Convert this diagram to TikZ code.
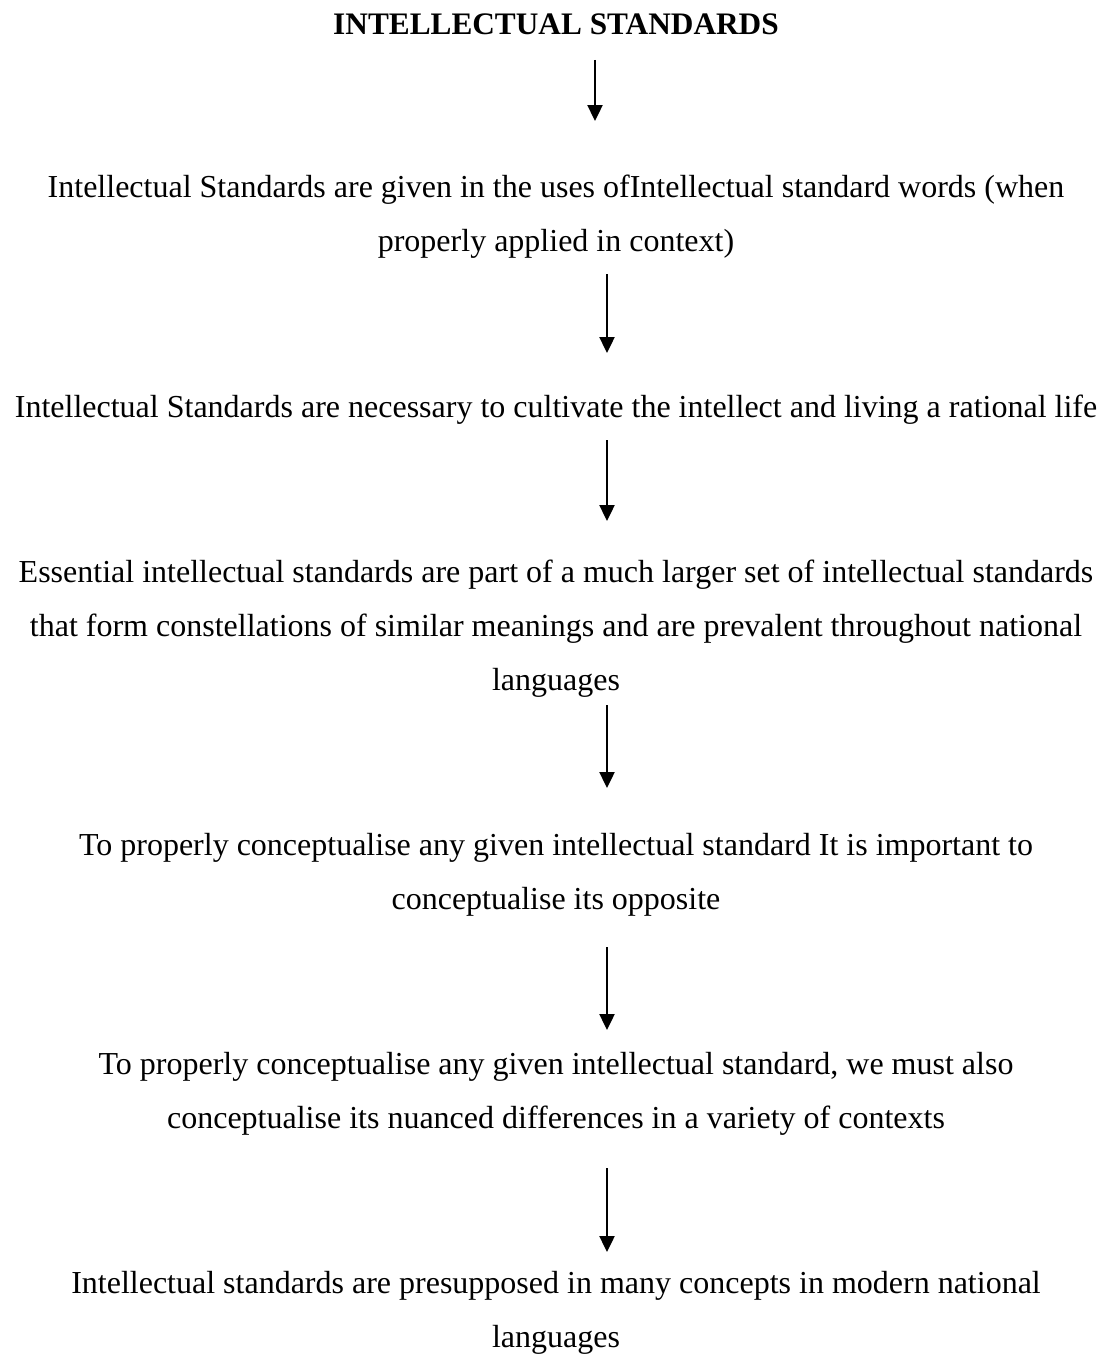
\documentclass[tikz,border=0pt]{standalone}
\usepackage{fontspec}
\setmainfont{Liberation Serif}
\usetikzlibrary{arrows.meta}
\begin{document}
\begin{tikzpicture}[x=1pt,y=-1pt,
  txt/.style={anchor=base,inner sep=0pt,align=center,
    font=\fontsize{32}{54}\selectfont},
  flow/.style={line width=2.4pt,-{Triangle[length=16pt,width=15pt]}}]
\useasboundingbox (0,0) rectangle (1106,1354);

% title and statements (placed by the baseline of their last line)
\node[txt,font=\fontsize{31.3}{54}\selectfont\bfseries] (title) at (556,35) {INTELLECTUAL STANDARDS};
\node[txt] (s1) at (556,251) {Intellectual Standards are given in the uses ofIntellectual standard words (when\\properly applied in context)};
\node[txt] (s2) at (556,417) {Intellectual Standards are necessary to cultivate the intellect and living a rational life};
\node[txt] (s3) at (556,690) {Essential intellectual standards are part of a much larger set of intellectual standards\\that form constellations of similar meanings and are prevalent throughout national\\languages};
\node[txt] (s4) at (556,909) {To properly conceptualise any given intellectual standard It is important to\\conceptualise its opposite};
\node[txt] (s5) at (556,1128) {To properly conceptualise any given intellectual standard, we must also\\conceptualise its nuanced differences in a variety of contexts};
\node[txt] (s6) at (556,1347) {Intellectual standards are presupposed in many concepts in modern national\\languages};

% arrow end points
\coordinate (a1s) at (595,60);   \coordinate (a1e) at (595,121);
\coordinate (a2s) at (607,274);  \coordinate (a2e) at (607,353);
\coordinate (a3s) at (607,440);  \coordinate (a3e) at (607,521);
\coordinate (a4s) at (607,705);  \coordinate (a4e) at (607,788);
\coordinate (a5s) at (607,947);  \coordinate (a5e) at (607,1030);
\coordinate (a6s) at (607,1168); \coordinate (a6e) at (607,1252);

\draw[flow] (a1s) -- (a1e);
\draw[flow] (a2s) -- (a2e);
\draw[flow] (a3s) -- (a3e);
\draw[flow] (a4s) -- (a4e);
\draw[flow] (a5s) -- (a5e);
\draw[flow] (a6s) -- (a6e);
\end{tikzpicture}
\end{document}
